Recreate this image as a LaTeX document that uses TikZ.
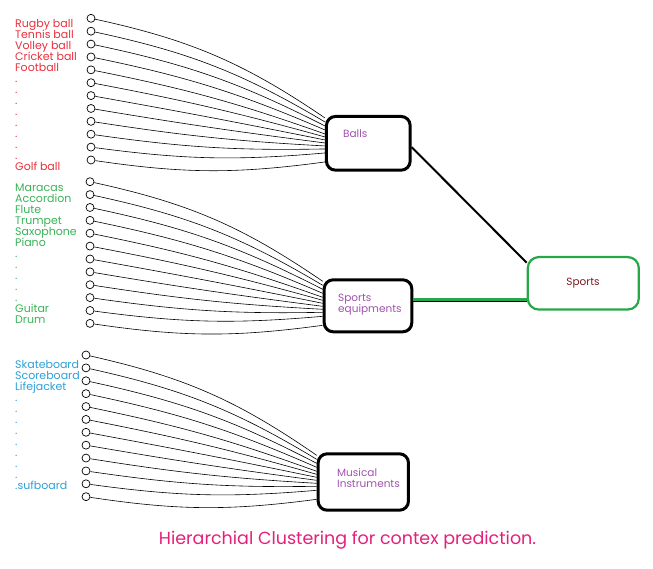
\documentclass[tikz,border=0pt]{standalone}
\usepackage{fontspec}
\setmainfont{Poppins}
\definecolor{ballred}{RGB}{232,48,60}
\definecolor{equipgreen}{RGB}{58,178,88}
\definecolor{musicblue}{RGB}{45,160,215}
\definecolor{boxpurple}{RGB}{160,80,175}
\definecolor{sportsred}{RGB}{128,24,32}
\definecolor{captionpink}{RGB}{228,32,122}
\definecolor{linegreen}{RGB}{38,168,72}
\tikzset{
leaf/.style={circle,draw,line width=0.7pt,minimum size=8pt,inner sep=0pt},
cluster/.style={draw,line width=3pt,rounded corners=9pt,inner sep=0pt},
itemlist/.style={anchor=north west,align=left,inner sep=0pt,font={\fontsize{11}{10.95}\selectfont\lineskiplimit=-10pt}},
boxtext/.style={anchor=west,align=left,inner sep=0pt,text=boxpurple,font=\fontsize{10.5}{11}\selectfont}
}
\begin{document}
\begin{tikzpicture}[x=1pt,y=1pt]
\useasboundingbox (0,0) rectangle (653,-568);
\node[cluster,minimum width=83.7pt,minimum height=53.7pt] (balls) at (368.3,-143.3) {};
\node[cluster,minimum width=87.6pt,minimum height=52pt] (equip) at (368,-305.8) {};
\node[cluster,minimum width=90.3pt,minimum height=56.4pt] (musical) at (363.3,-482) {};
\node[cluster,draw=linegreen,line width=2.2pt,rounded corners=11pt,minimum width=111pt,minimum height=52.5pt] (sports) at (583.3,-283.3) {};
\node[boxtext] (balls-text) at (343,-133.5) {Balls};
\node[boxtext] (equip-text) at (338,-304.5) {Sports\\equipments};
\node[boxtext] (musical-text) at (337,-478) {Musical\\Instruments};
\node[text=sportsred,font=\fontsize{10.5}{11}\selectfont] (sports-text) at (583,-283) {Sports};
\node[itemlist,text=ballred] (balls-list) at (15,-19.5) {Rugby ball\\Tennis ball\\Volley ball\\Cricket ball\\Football\\.\\.\\.\\.\\.\\.\\.\\.\\Golf ball};
\node[itemlist,text=equipgreen] (equip-list) at (15,-183.8) {Maracas\\Accordion\\Flute\\Trumpet\\Saxophone\\Piano\\.\\.\\.\\.\\.\\Guitar\\Drum};
\node[itemlist,text=musicblue] (musical-list) at (15,-360.5) {Skateboard\\Scoreboard\\Lifejacket\\.\\.\\.\\.\\.\\.\\.\\.\\.sufboard};
\foreach \i in {1,...,12}{
\node[leaf] (b\i) at (91,{-18.3-12.88*(\i-1)}) {};
\node[leaf] (e\i) at (90,{-181.7-12.88*(\i-1)}) {};
\node[leaf] (m\i) at (86,{-355-12.88*(\i-1)}) {};
}
\foreach \i/\d in {1/3,2/7,3/11,4/15,5/19,6/22,7/25,8/28,9/31,10/34,11/38,12/47}{
\pgfmathsetmacro{\bend}{11-1.73*(\i-1)}
\draw[line width=0.6pt] (b\i) to[bend left=\bend] ([yshift=-\d]balls.north west);
\draw[line width=0.6pt] (e\i) to[bend left=\bend] ([yshift=-\d]equip.north west);
\draw[line width=0.6pt] (m\i) to[bend left=\bend] ([yshift=-\d]musical.north west);
}
\draw[line width=2pt] (balls.-5) -- (sports.160);
\draw[line width=1.2pt] ([yshift=-1.5]equip.8) -- ([yshift=-1.5]equip.8 -| sports.west);
\draw[linegreen,line width=2.2pt] (equip.8) -- (equip.8 -| sports.west);
\node[text=captionpink,font=\fontsize{17.5}{20}\selectfont] (caption) at (347.5,-540) {Hierarchial Clustering for contex prediction.};
\end{tikzpicture}
\end{document}
